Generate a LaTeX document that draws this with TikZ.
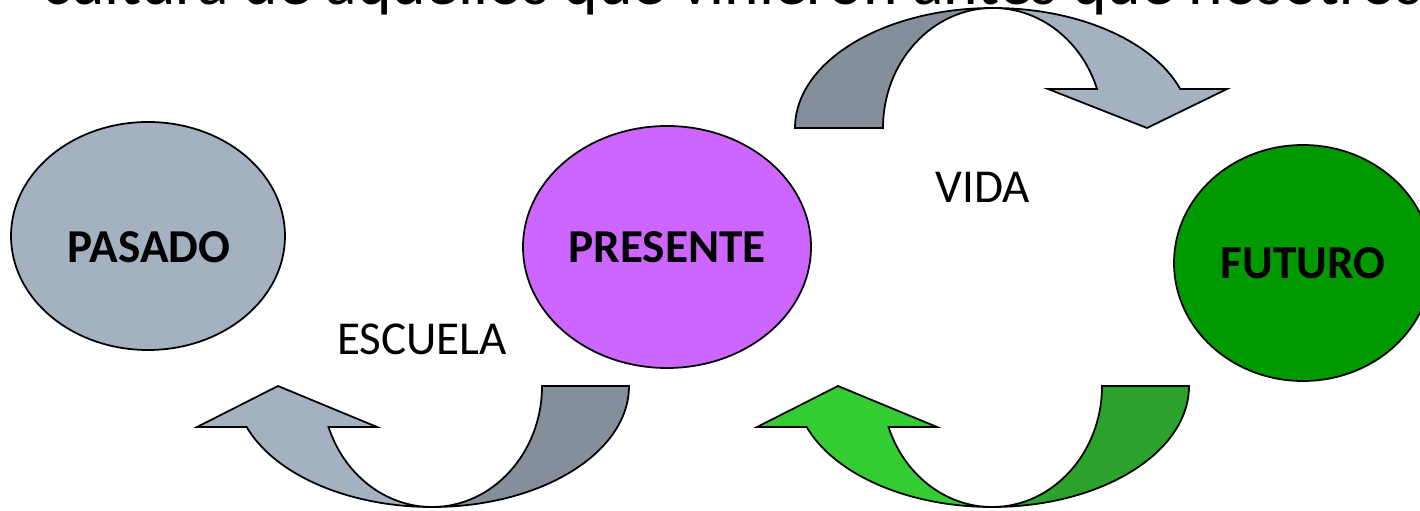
\documentclass[tikz,border=0pt]{standalone}
\usepackage{fontspec}
\setmainfont{Carlito}
\usetikzlibrary{shapes.geometric}
\definecolor{slatelight}{HTML}{A3B1C1}
\definecolor{slatedark}{HTML}{848F9B}
\definecolor{violeta}{HTML}{CC66FF}
\definecolor{verde}{HTML}{009900}
\definecolor{verdeclaro}{HTML}{33CC33}
\definecolor{verdeoscuro}{HTML}{2BA22B}
\begin{document}
\begin{tikzpicture}[x=0.625pt,y=0.625pt,
	blob/.style={ellipse,draw,line width=1.1pt,inner sep=0pt},
	tag/.style={font=\fontsize{29.5}{35}\selectfont\bfseries},
	plain/.style={font=\fontsize{29.5}{35}\selectfont},
	band/.style={draw,line width=1.1pt,line join=miter}]
		\useasboundingbox (0,0) rectangle (1420,511);
		\clip (0,0) rectangle (1420,511);
		% title line, cut by the top edge
		\node [anchor=base west,inner sep=0pt,font=\fontsize{41}{48}\selectfont] (titulo) at (42,506) {cultura de aquellos que vinieron antes que nosotros};
		% the three times
		\node [blob,fill=slatelight,minimum width=171.25pt,minimum height=142.5pt] (pasado) at (148,275) {};
		\node [tag] (pasadotxt) at (149,264) {PASADO};
		\node [blob,tag,fill=violeta,minimum width=180pt,minimum height=151.25pt] (presente) at (667,264) {PRESENTE};
		\node [blob,tag,fill=verde,minimum width=161.25pt,minimum height=147.5pt] (futuro) at (1303,248) {FUTURO};
		\node [plain] (escuela) at (422,172) {ESCUELA};
		\node [plain] (vida) at (983,324) {VIDA};
		% top curved arrow
		\filldraw [band,fill=slatedark] (795,383) arc[start angle=180,end angle=90,x radius=198,y radius=120]
			arc[start angle=90,end angle=180,x radius=110,y radius=120] -- cycle;
		\filldraw [band,fill=slatelight] (993,503) arc[start angle=90,end angle=18.97,x radius=198,y radius=120]
			-- (1227,422) -- (1147,383) -- (1048,422) -- (1097,422)
			arc[start angle=18.97,end angle=90,x radius=110,y radius=120] -- cycle;
		% bottom curved arrows
		\foreach \cx/\lite/\dark in {432/slatelight/slatedark,992/verdeclaro/verdeoscuro}{
			\begin{scope}[shift={(\cx,0)}]
				\filldraw [band,fill=\dark] (197,125) arc[start angle=0,end angle=-90,x radius=197,y radius=121]
					arc[start angle=-90,end angle=0,x radius=110,y radius=121] -- cycle;
				\filldraw [band,fill=\lite] (0,4) arc[start angle=270,end angle=199.81,x radius=197,y radius=121]
					-- (-235,84) -- (-154,125) -- (-55,84) -- (-103.5,84)
					arc[start angle=199.81,end angle=270,x radius=110,y radius=121] -- cycle;
			\end{scope}
		}
	\end{tikzpicture}
\end{document}
